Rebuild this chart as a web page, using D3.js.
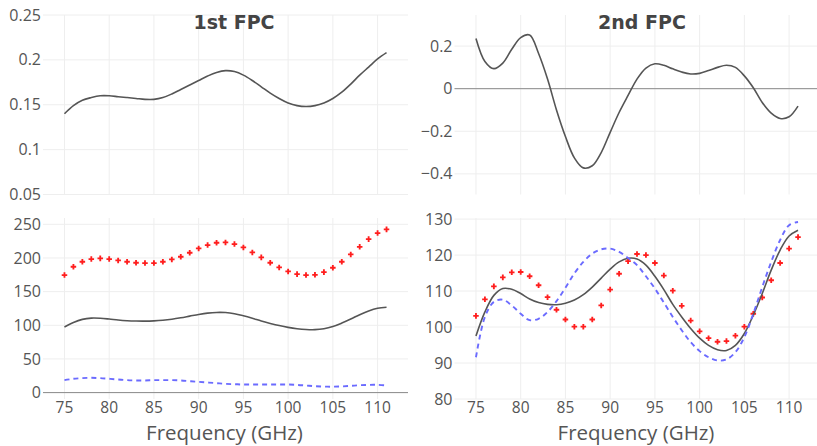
<!DOCTYPE html>
<html lang="en">
<head>
<meta charset="UTF-8">
<title>FPC chart</title>
<script src="https://d3js.org/d3.v7.min.js"></script>
<style>
  body { margin: 0; background: #fff; }
  svg { font-family: "Open Sans", "DejaVu Sans", sans-serif; }
</style>
</head>
<body>
<div id="chart"></div>
<script>
// frequencies 75..111 GHz
const freq = [75,76,77,78,79,80,81,82,83,84,85,86,87,88,89,90,91,92,93,94,95,96,97,98,99,100,101,102,103,104,105,106,107,108,109,110,111];

// 1st FPC
const fpc1 = [0.140,0.149,0.155,0.158,0.160,0.160,0.159,0.158,0.157,0.156,0.156,0.158,0.162,0.167,0.172,0.177,0.182,0.186,0.188,0.187,0.183,0.177,0.170,0.163,0.157,0.152,0.149,0.148,0.149,0.152,0.157,0.164,0.173,0.183,0.192,0.201,0.208];

// 2nd FPC
const fpc2 = [0.236,0.128,0.094,0.120,0.185,0.240,0.252,0.165,0.045,-0.100,-0.225,-0.325,-0.372,-0.362,-0.300,-0.205,-0.112,-0.032,0.045,0.097,0.117,0.110,0.093,0.078,0.069,0.072,0.085,0.100,0.110,0.100,0.060,0.004,-0.065,-0.115,-0.140,-0.132,-0.082];

// mean curve (black)
const meanCurve = [97.5,104.2,108.8,110.7,110.5,109.3,107.8,106.8,106.3,106.2,106.6,107.5,109.0,111.1,113.6,116.1,118.1,119.1,118.9,117.2,114.1,110.4,106.3,102.8,99.6,96.9,94.9,93.7,93.5,94.9,98.2,103.3,109.3,115.8,121.4,125.3,126.9];

// bottom-left: mean +/- 1st FPC
const plus1 = [174.6,187,194.4,198.4,199.4,198.4,196.4,194.4,192.9,192.4,192.4,194.4,197.9,201.8,207.8,214.2,219.2,222.6,223.1,220.7,215.7,208.3,200.9,192.9,186,180,176,174.6,175,179,185.5,194.4,205.3,216.6,228,237,242.5];
const minus1 = [18.6,20.5,21.5,22,21.5,20.5,19.5,18.5,18,18,18.5,18.5,18.5,18,17,16,15,14,13,12.5,12,12,12,12,12,12,11.5,10.5,9.5,9,8.8,9.2,10,11,11.5,11.5,10.5];

// bottom-right: mean +/- 2nd FPC
const plus2 = [103.1,107.7,111.3,113.8,115.2,115.3,114.1,111.6,108.3,104.8,102.1,100.1,100.1,102.1,106,110.4,114.8,118.3,120.3,120,117.8,114.3,110.1,105.9,101.8,98.8,96.9,95.9,96.1,97.6,100.1,103.7,108.2,113,117.8,121.8,125];
const minus2 = [91.6,102.8,107,107.6,106,103.7,101.9,102.3,104.2,107.2,110.9,114.9,118.1,120.4,121.6,121.8,120.9,119.2,117.2,114.1,110.7,106.8,102.8,99.1,95.8,93.3,91.6,90.7,91,93,97.2,103.7,111.1,118.1,124.2,128.3,129.2];

const xTicks = [75,80,85,90,95,100,105,110];
const titles = ["1st FPC", "2nd FPC"];
const xTitle = "Frequency (GHz)";

const width = 817, height = 446;
const svg = d3.select('#chart').append('svg')
  .attr('width', width).attr('height', height);
svg.append('rect').attr('width', width).attr('height', height).attr('fill', '#fff');

const cols = [[43, 408], [454.5, 819.5]];
const rows = [[15, 194.5], [218, 399]];
const xDomain = [72.6, 113.4];

function panel(col, row, yDomain, yTicks, fmt, zero) {
  const x = d3.scaleLinear().domain(xDomain).range(cols[col]);
  const y = d3.scaleLinear().domain(yDomain).range([rows[row][1], rows[row][0]]);
  const g = svg.append('g');

  // grid
  g.selectAll('.vg').data(xTicks).enter().append('line')
    .attr('x1', d => x(d)).attr('x2', d => x(d))
    .attr('y1', rows[row][0]).attr('y2', rows[row][1])
    .attr('stroke', '#eeeeee').attr('stroke-width', 1);
  g.selectAll('.hg').data(yTicks).enter().append('line')
    .attr('x1', cols[col][0]).attr('x2', cols[col][1])
    .attr('y1', d => y(d)).attr('y2', d => y(d))
    .attr('stroke', '#eeeeee').attr('stroke-width', 1);

  if (zero) {
    g.append('line')
      .attr('x1', cols[col][0]).attr('x2', cols[col][1])
      .attr('y1', y(0)).attr('y2', y(0))
      .attr('stroke', '#8a8a8a').attr('stroke-width', 1);
  }

  // y tick labels
  g.selectAll('.yl').data(yTicks).enter().append('text')
    .attr('x', cols[col][0] - 2).attr('y', d => y(d)).attr('dy', '0.35em')
    .attr('text-anchor', 'end').attr('font-size', 16).attr('fill', '#555')
    .text(fmt);

  // x tick labels only on bottom row
  if (row === 1) {
    g.selectAll('.xl').data(xTicks).enter().append('text')
      .attr('x', d => x(d)).attr('y', 407.5).attr('dy', '0.35em')
      .attr('text-anchor', 'middle').attr('font-size', 15.5).attr('fill', '#555')
      .text(d => d);
    g.append('text')
      .attr('x', (cols[col][0] + cols[col][1]) / 2 - 1).attr('y', 433).attr('dy', '0.35em')
      .attr('text-anchor', 'middle').attr('font-size', 20.5).attr('fill', '#555')
      .text(xTitle);
  }
  return {x, y, g};
}

function curve(p, vals, color, dash, w) {
  p.g.append('path')
    .datum(freq.map((f, i) => [f, vals[i]]))
    .attr('fill', 'none').attr('stroke', color).attr('stroke-width', w || 1.6)
    .attr('stroke-dasharray', dash || null)
    .attr('d', d3.line().x(d => p.x(d[0])).y(d => p.y(d[1])).curve(d3.curveCatmullRom.alpha(0.5)));
}

function crosses(p, vals) {
  p.g.selectAll('.mk').data(freq.map((f, i) => [f, vals[i]])).enter().append('path')
    .attr('transform', d => `translate(${p.x(d[0])},${p.y(d[1])})`)
    .attr('d', d3.symbol().type(d3.symbolCross).size(17))
    .attr('fill', '#ff1e1e');
}

const minusFmt = d => d < 0 ? '\u2212' + Math.abs(d) : String(d);

const tl = panel(0, 0, [0.05, 0.25], [0.05, 0.1, 0.15, 0.2, 0.25], d => String(d), false);
curve(tl, fpc1, '#555');

const tr = panel(1, 0, [-0.497, 0.346], [-0.4, -0.2, 0, 0.2], minusFmt, true);
curve(tr, fpc2, '#555');

const bl = panel(0, 1, [-9.5, 259.4], [0, 50, 100, 150, 200, 250], d => String(d), true);
crosses(bl, plus1);
curve(bl, meanCurve, '#555');
curve(bl, minus1, '#6b6bff', '5,4', 1.9);

const br = panel(1, 1, [80, 130.3], [80, 90, 100, 110, 120, 130], d => String(d), false);
crosses(br, plus2);
curve(br, meanCurve, '#555');
curve(br, minus2, '#6b6bff', '5,4', 1.9);

// subplot titles
svg.append('text').attr('x', 234).attr('y', 22).attr('dy', '0.35em')
  .attr('text-anchor', 'middle').attr('font-family', '"DejaVu Sans", sans-serif')
  .attr('font-size', 19).attr('font-weight', 'bold').attr('fill', '#444')
  .text(titles[0]);
svg.append('text').attr('x', 642).attr('y', 22).attr('dy', '0.35em')
  .attr('text-anchor', 'middle').attr('font-family', '"DejaVu Sans", sans-serif')
  .attr('font-size', 19).attr('font-weight', 'bold').attr('fill', '#444')
  .text(titles[1]);
</script>
</body>
</html>
